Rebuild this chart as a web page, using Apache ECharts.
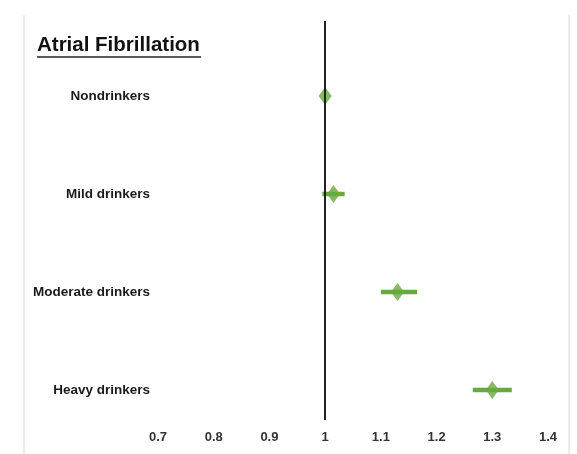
<!DOCTYPE html>
<html><head><meta charset="utf-8">
<script src="https://cdn.jsdelivr.net/npm/echarts@6/dist/echarts.min.js"></script>
<style>html,body{margin:0;padding:0;background:#fff}#c{width:577px;height:454px}</style>
</head><body><div id="c"></div>
<script>
// ---- data ----
const titleText = 'Atrial Fibrillation';
const categories = ['Nondrinkers', 'Mild drinkers', 'Moderate drinkers', 'Heavy drinkers'];
const estimates = [1.0, 1.015, 1.13, 1.30];
const lowerCI = [1.0, 0.995, 1.10, 1.265];
const upperCI = [1.0, 1.035, 1.165, 1.335];
const xMin = 0.7, xMax = 1.4, xStep = 0.1;
const refValue = 1;

// ---- build ----
const FONT = '"Liberation Sans Narrow", "Arial Narrow", "Liberation Sans", Arial, sans-serif';
const GREEN = '#67a93c';
const rowIdx = categories.map((c, i) => i);

const chart = echarts.init(document.getElementById('c'), null, {renderer: 'canvas'});
chart.setOption({
  animation: false,
  backgroundColor: '#fff',
  title: {
    text: titleText, left: 32, top: 30,
    textStyle: {fontFamily: FONT, fontSize: 20.5, fontWeight: 'bold', color: '#111'}
  },
  graphic: [
    {type: 'line', shape: {x1: 37, y1: 57, x2: 201, y2: 57}, style: {stroke: '#222', lineWidth: 1.5}},
    {type: 'line', shape: {x1: 24, y1: 15, x2: 24, y2: 454}, style: {stroke: '#e4e4e4', lineWidth: 1.5}},
    {type: 'line', shape: {x1: 569, y1: 15, x2: 569, y2: 454}, style: {stroke: '#e4e4e4', lineWidth: 1.5}}
  ],
  grid: {left: 158, right: 29, top: 21, bottom: 34, containLabel: false},
  xAxis: {
    type: 'value', min: xMin, max: xMax, interval: xStep,
    axisLine: {show: false}, axisTick: {show: false}, splitLine: {show: false},
    axisLabel: {
      margin: 11, fontFamily: FONT, fontSize: 13, fontWeight: 'bold', color: '#333',
      formatter: v => String(Math.round(v * 10) / 10)
    }
  },
  yAxis: {
    type: 'value', inverse: true, min: -0.765, max: 3.306,
    axisLine: {show: false}, axisTick: {show: false}, splitLine: {show: false},
    axisLabel: {
      customValues: rowIdx, margin: 8,
      fontFamily: FONT, fontSize: 13.5, fontWeight: 'bold', color: '#1a1a1a',
      formatter: v => categories[Math.round(v)] || ''
    }
  },
  series: [
    {
      type: 'custom', z: 2,
      data: rowIdx.map(i => [lowerCI[i], upperCI[i], i]),
      renderItem: (params, api) => {
        const y = api.value(2);
        const p1 = api.coord([api.value(0), y]);
        const p2 = api.coord([api.value(1), y]);
        return {type: 'line', shape: {x1: p1[0], y1: p1[1], x2: p2[0], y2: p2[1]},
          style: {stroke: GREEN, lineWidth: 4.5}};
      }
    },
    {
      type: 'scatter', z: 3,
      symbol: 'diamond', symbolSize: [13, 18],
      itemStyle: {color: GREEN},
      data: rowIdx.map(i => [estimates[i], i]),
      markLine: {
        silent: true, symbol: 'none', z: 5,
        label: {show: false},
        lineStyle: {color: '#222', width: 2, type: 'solid'},
        data: [{xAxis: refValue}]
      }
    }
  ]
});
</script></body></html>
